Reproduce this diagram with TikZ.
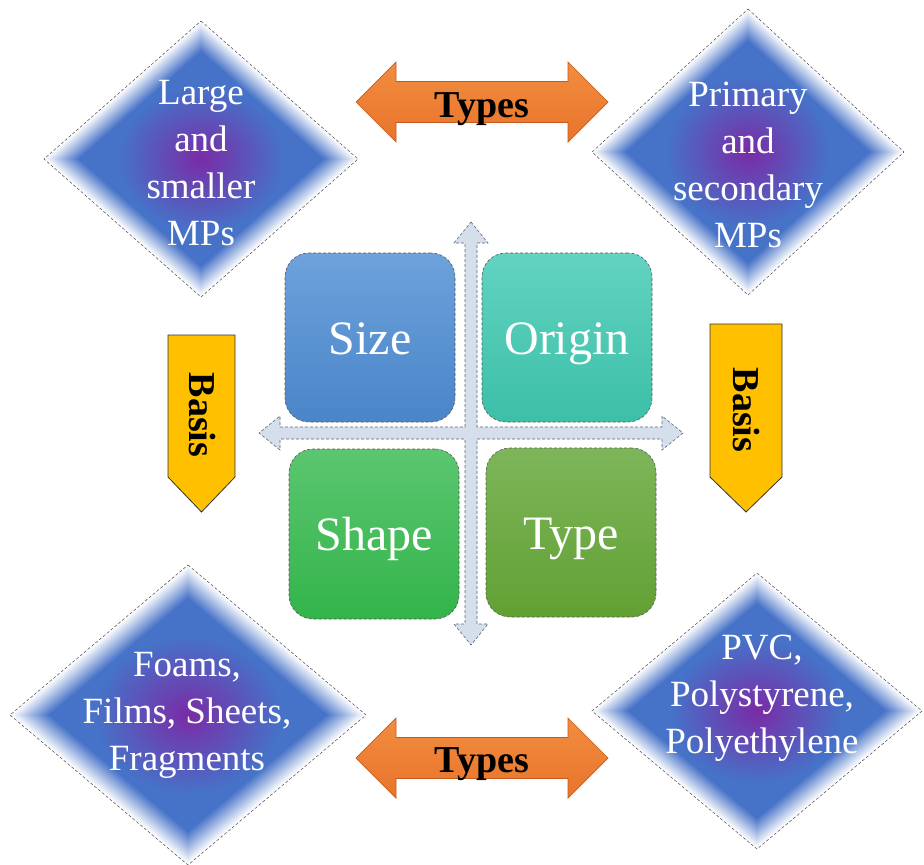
\documentclass[tikz,border=0pt]{standalone}
\usepackage{fontspec}
\setmainfont{Liberation Serif}
\definecolor{dblue}{HTML}{4672C8}
\definecolor{dpurple}{HTML}{7A2BA6}
\definecolor{dedge}{HTML}{4A4A4A}
\definecolor{orgtop}{HTML}{F28D40}
\definecolor{orgbot}{HTML}{E8742A}
\definecolor{orgline}{HTML}{C65A1C}
\definecolor{basisfill}{HTML}{FFC000}
\definecolor{sizetop}{HTML}{6DA2DB}
\definecolor{sizebot}{HTML}{4A85C9}
\definecolor{origtop}{HTML}{62D3C0}
\definecolor{origbot}{HTML}{3CBFA8}
\definecolor{shapetop}{HTML}{5BC670}
\definecolor{shapebot}{HTML}{33B44A}
\definecolor{typetop}{HTML}{7DB65A}
\definecolor{typebot}{HTML}{62A033}
\definecolor{crossfill}{HTML}{D5DFEC}
\definecolor{crossline}{HTML}{5E6672}

% diamond with a white-to-blue rim and a purple glow in the middle
% #1 cx, #2 cy, #3 half width, #4 half height
\newcommand\mpdiamond[4]{%
  \foreach \k in {0,...,24}{%
    \pgfmathsetmacro\s{1-0.22*\k/24}%
    \pgfmathtruncatemacro\p{100*\k/24}%
    \fill[dblue!\p!white] (#1,#2) ++(0,-#4*\s) -- ++(#3*\s,#4*\s)
      -- ++(-#3*\s,#4*\s) -- ++(-#3*\s,-#4*\s) -- cycle;
  }%
  \begin{scope}
    \clip (#1,#2) ++(0,-#4*0.78) -- ++(#3*0.78,#4*0.78)
      -- ++(-#3*0.78,#4*0.78) -- ++(-#3*0.78,-#4*0.78) -- cycle;
    \shade[inner color=dpurple, outer color=dblue]
      (#1,#2) ellipse [x radius=0.52*#3, y radius=0.52*#4];
  \end{scope}
  \draw[diamondedge] (#1,#2) ++(0,-#4) -- ++(#3,#4) -- ++(-#3,#4)
    -- ++(-#3,-#4) -- cycle;
}

% horizontal double arrow centred on y = #1
\newcommand\typesarrow[1]{%
  \draw[typesfill] (356,#1) -- (396,#1-40) -- (396,#1-20.5) -- (568,#1-20.5)
    -- (568,#1-40) -- (608,#1) -- (568,#1+40) -- (568,#1+20.5)
    -- (396,#1+20.5) -- (396,#1+40) -- cycle;
}

\begin{document}
\begin{tikzpicture}[x=1pt,y=-1pt,
  diamondedge/.style={draw=dedge, densely dashed, line width=0.5pt},
  dtext/.style={text=white, font=\fontsize{37}{47}\selectfont, align=center, inner sep=0pt},
  typesfill/.style={draw=orgline, line width=0.7pt, top color=orgtop, bottom color=orgbot},
  boldlabel/.style={text=black, font=\fontsize{38}{40}\selectfont\bfseries, inner sep=0pt, text height=25pt, text depth=0pt},
  basisfill/.style={fill=basisfill, draw=black!80, line width=0.8pt},
  quad/.style={rounded corners=24pt, minimum width=170pt, minimum height=169pt,
    draw=black!65, densely dashed, line width=0.6pt, text=white,
    font=\fontsize{48}{56}\selectfont, text height=33pt, text depth=0pt},
  crossarrow/.style={fill=crossfill, draw=crossline, densely dashed, line width=0.6pt}
]
\useasboundingbox[fill=white] (0,0) rectangle (924,865);

% corner diamonds
\mpdiamond{201}{159}{157}{138}
\mpdiamond{748}{152}{156}{143}
\mpdiamond{188}{715}{178}{150}
\mpdiamond{757}{711}{165}{138}

\node[dtext] (large) at (201,163) {Large\\and\\smaller\\MPs};
\node[dtext] (primary) at (748,165) {Primary\\and\\secondary\\MPs};
\node[dtext] (foams) at (187,715) {Foams,\\Films, Sheets,\\Fragments};
\node[dtext] (pvc) at (762,698) {PVC,\\Polystyrene,\\Polyethylene};

% "Types" double arrows
\typesarrow{102}
\node[boldlabel] (typestop) at (482,104.5) {Types};
\typesarrow{758}
\node[boldlabel] (typesbot) at (482,759.5) {Types};

% "Basis" chevrons
\draw[basisfill] (168,335) -- (235,335) -- (235,477) -- (201.5,512) -- (168,477) -- cycle;
\node[boldlabel, rotate=-90] (basisl) at (201.5,415) {Basis};
\draw[basisfill] (710,324) -- (782,324) -- (782,477) -- (746,512) -- (710,477) -- cycle;
\node[boldlabel, rotate=-90] (basisr) at (746,410) {Basis};

% four-way cross arrow
\draw[crossarrow] (471,222) -- (488,243) -- (477,243) -- (477,427) -- (662,427)
  -- (662,416) -- (683,433) -- (662,450) -- (662,439) -- (477,439) -- (477,624)
  -- (488,624) -- (471,645) -- (454,624) -- (465,624) -- (465,439) -- (280,439)
  -- (280,450) -- (259,433) -- (280,416) -- (280,427) -- (465,427) -- (465,243)
  -- (454,243) -- cycle;

% the four criteria
\node[quad, top color=sizetop, bottom color=sizebot] (size) at (370,337.5) {Size};
\node[quad, top color=origtop, bottom color=origbot] (origin) at (567,337.5) {Origin};
\node[quad, top color=shapetop, bottom color=shapebot, minimum height=170pt] (shape) at (374,534) {Shape};
\node[quad, top color=typetop, bottom color=typebot] (type) at (571,532.5) {Type};
\end{tikzpicture}
\end{document}
